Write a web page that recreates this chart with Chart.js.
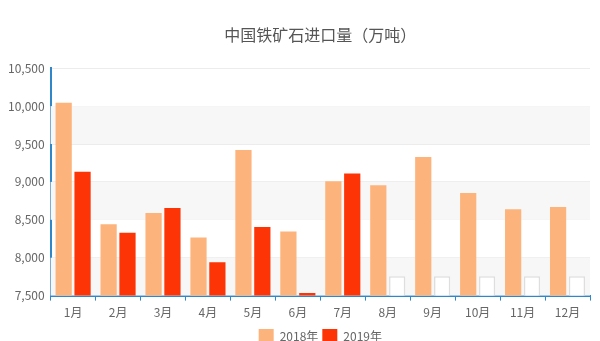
<!DOCTYPE html>
<html lang="zh-CN">

<head>
    <meta charset="UTF-8">
    <script src="https://cdn.jsdelivr.net/npm/chart.js"></script>
    <title>中国铁矿石进口量</title>
    <style>
        html, body { margin: 0; padding: 0; background: #fff; }
    </style>
</head>

<body>
    <canvas id="importChart" width="600" height="341"></canvas>
</body>

</html>

<script>
    const meses = ['1月', '2月', '3月', '4月', '5月', '6月', '7月', '8月', '9月', '10月', '11月', '12月']
    const dados2018 = [10045, 8440, 8590, 8265, 9420, 8345, 9010, 8955, 9330, 8855, 8640, 8670]
    const dados2019 = [9135, 8330, 8655, 7940, 8405, 7535, 9110, null, null, null, null, null]
    // caixinhas vazias que aparecem no lugar de 2019 (ago-dez)
    const vazios2019 = [null, null, null, null, null, null, null, 7755, 7755, 7755, 7755, 7755]
    const ticksY = [7500, 8000, 8500, 9000, 9500, 10000, 10500]

    const fonte = '"Noto Sans CJK SC", "Noto Sans", sans-serif'

    // faixas cinza alternadas no fundo
    const faixas = {
        id: 'faixas',
        beforeDatasetsDraw(chart) {
            const { ctx, chartArea, scales } = chart
            ctx.save()
            ctx.fillStyle = '#f7f7f7'
            for (let i = 0; i < ticksY.length - 1; i += 2) {
                const y1 = scales.y.getPixelForValue(ticksY[i])
                const y2 = scales.y.getPixelForValue(ticksY[i + 1])
                ctx.fillRect(chartArea.left, y2, chartArea.right - chartArea.left, y1 - y2)
            }
            ctx.restore()
        }
    }

    new Chart(importChart, {
        type: 'bar',
        data: {
            labels: meses,
            datasets: [{
                label: '2018年',
                data: dados2018,
                backgroundColor: '#fdb47c',
                stack: 'a'
            }, {
                label: '2019年',
                data: dados2019,
                backgroundColor: '#fd3506',
                stack: 'b'
            }, {
                label: 'vazio',
                data: vazios2019,
                backgroundColor: '#ffffff',
                borderColor: '#dedede',
                borderWidth: 1.5,
                stack: 'b'
            }]
        },
        plugins: [faixas],
        options: {
            responsive: false,
            animation: false,
            devicePixelRatio: 1,
            categoryPercentage: 0.84,
            barPercentage: 0.86,
            layout: { padding: { top: 25, right: 10, left: 2, bottom: -12 } },
            plugins: {
                title: {
                    display: true,
                    text: '中国铁矿石进口量（万吨）',
                    color: '#555',
                    fullSize: false,
                    font: { family: fonte, size: 16, weight: 'normal' },
                    padding: { top: 0, bottom: 24 }
                },
                legend: {
                    position: 'bottom',
                    fullSize: false,
                    labels: {
                        filter: item => item.text !== 'vazio',
                        boxWidth: 15,
                        boxHeight: 14,
                        padding: 4,
                        color: '#666',
                        font: { family: fonte, size: 12 }
                    }
                },
                tooltip: { enabled: false }
            },
            scales: {
                x: {
                    stacked: true,
                    grid: {
                        drawOnChartArea: false,
                        drawTicks: true,
                        tickLength: 5,
                        color: '#2f86c8'
                    },
                    border: { color: '#2f86c8', width: 2 },
                    ticks: {
                        color: '#666',
                        autoSkip: false,
                        maxRotation: 0,
                        font: { family: fonte, size: 12 },
                        padding: 5
                    }
                },
                y: {
                    stacked: false,
                    min: 7500,
                    max: 10500,
                    afterBuildTicks: axis => { axis.ticks = ticksY.map(v => ({ value: v })) },
                    grid: { color: '#ececec', drawTicks: false },
                    border: { color: '#2f86c8', width: 2 },
                    ticks: {
                        color: '#666',
                        padding: 6,
                        font: { family: fonte, size: 12 },
                        callback: v => v.toLocaleString('en-US')
                    }
                }
            }
        }
    });
</script>
